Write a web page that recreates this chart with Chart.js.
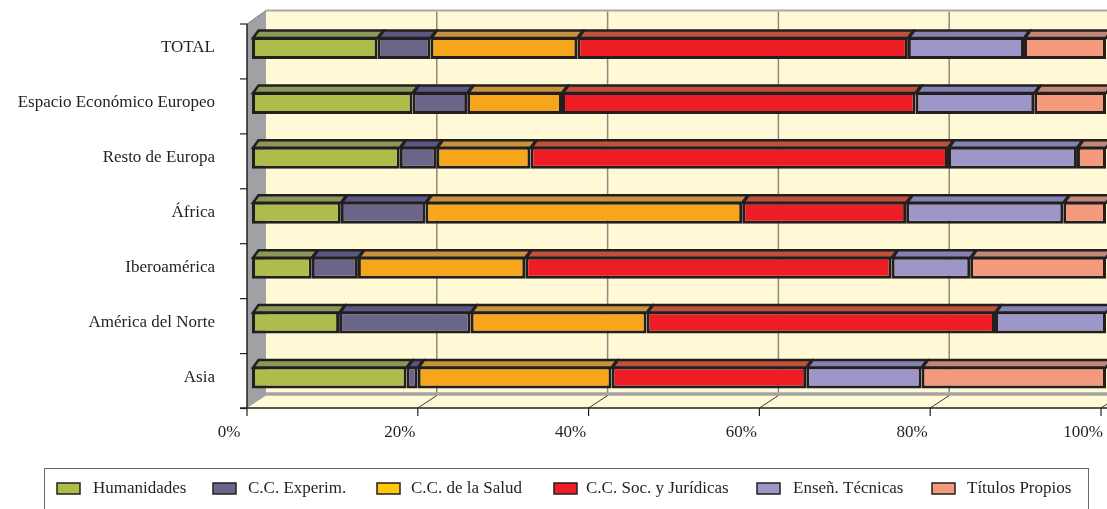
<!DOCTYPE html>
<html><head><meta charset="utf-8">
<script src="https://cdn.jsdelivr.net/npm/chart.js@4.4.1/dist/chart.umd.min.js"></script>
<style>html,body{margin:0;padding:0;background:#fff;overflow:hidden}</style>
</head><body>
<canvas id="c" width="1107" height="509"></canvas>
<script>
// ---- data ----
const categories = ["TOTAL", "Espacio Económico Europeo", "Resto de Europa", "África", "Iberoamérica", "América del Norte", "Asia"];
const seriesNames = ["Humanidades", "C.C. Experim.", "C.C. de la Salud", "C.C. Soc. y Jurídicas", "Enseñ. Técnicas", "Títulos Propios"];
const humanidades = [14.7, 18.8, 17.3, 10.4, 7.0, 10.2, 18.1];
const ccExperim   = [6.2, 6.4, 4.3, 9.9, 5.4, 15.4, 1.3];
const ccSalud     = [17.2, 11.1, 11.0, 37.1, 19.6, 20.6, 22.7];
const ccSocJur    = [38.7, 41.4, 48.9, 19.2, 42.9, 40.8, 22.8];
const ensTecnicas = [13.6, 13.9, 15.1, 18.4, 9.2, 13.0, 13.5];
const titPropios  = [9.6, 8.4, 3.4, 5.0, 15.9, 0, 21.6];
const tickLabels  = ["0%", "20%", "40%", "60%", "80%", "100%"];

// ---- styles ----
const FONT = "'Liberation Serif', 'Times New Roman', serif";
const INK = '#231F20';
const frontColors = ['#AEBC4B', '#6A6689', '#F7A61C', '#EE1C25', '#9C97C8', '#F4997B'];
const topColors   = ['#8A985A', '#5A5880', '#C8913C', '#BE503C', '#8482B0', '#C38778'];
const legendColors = ['#AEBC4B', '#6A6689', '#FFC60A', '#EE1C25', '#9C97C8', '#F4997B'];
const legendBoxX  = [57, 213, 377, 554, 757, 932];
const legendTextX = [93, 248, 411, 586, 793, 967];
const CREAM = '#FFF9D5';
const WALLGRAY = '#A0A1A5';

const seriesValues = [humanidades, ccExperim, ccSalud, ccSocJur, ensTecnicas, titPropios];

const walls = {
  id: 'walls',
  beforeDatasetsDraw(chart) {
    const ctx = chart.ctx;
    const {left, top, bottom} = chart.chartArea;
    const W = chart.width;
    const xs = chart.scales.x;
    const fL = left - 5, fB = bottom + 3, fT = top + 3.5;
    const bL = left + 14, bB = bottom - 9.5, bT = top - 10;
    ctx.save();
    // back wall
    ctx.fillStyle = CREAM;
    ctx.fillRect(bL, bT, W - bL, bB - bT);
    // floor
    ctx.beginPath();
    ctx.moveTo(fL, fB); ctx.lineTo(bL, bB); ctx.lineTo(W, bB); ctx.lineTo(W, fB); ctx.closePath();
    ctx.fill();
    // left wall
    ctx.fillStyle = WALLGRAY;
    ctx.beginPath();
    ctx.moveTo(fL, fT); ctx.lineTo(bL, bT); ctx.lineTo(bL, bB); ctx.lineTo(fL, fB); ctx.closePath();
    ctx.fill();
    // wall top edge + bottom band
    ctx.strokeStyle = '#A8A8A8';
    ctx.lineWidth = 2;
    ctx.beginPath(); ctx.moveTo(bL, bT); ctx.lineTo(W, bT); ctx.stroke();
    ctx.lineWidth = 3.5;
    ctx.strokeStyle = '#A3A3A3';
    ctx.beginPath(); ctx.moveTo(bL, bB - 1.5); ctx.lineTo(W, bB - 1.5); ctx.stroke();
    // gridlines on back wall and floor
    for (let v = 20; v <= 100; v += 20) {
      const px = xs.getPixelForValue(v);
      ctx.strokeStyle = '#8C8A7E';
      ctx.lineWidth = 1.5;
      ctx.beginPath(); ctx.moveTo(px + 14, bT + 1); ctx.lineTo(px + 14, bB - 3); ctx.stroke();
      ctx.strokeStyle = '#3A3A3A';
      ctx.lineWidth = 1;
      ctx.beginPath(); ctx.moveTo(px + 14, bB); ctx.lineTo(px - 5, fB); ctx.stroke();
    }
    // left wall top slanted edge
    ctx.strokeStyle = '#808080';
    ctx.lineWidth = 1;
    ctx.beginPath(); ctx.moveTo(fL, fT); ctx.lineTo(bL, bT); ctx.stroke();
    // front axes
    ctx.strokeStyle = INK;
    ctx.lineWidth = 1.5;
    ctx.beginPath(); ctx.moveTo(fL, fT); ctx.lineTo(fL, fB); ctx.stroke();
    ctx.beginPath(); ctx.moveTo(fL - 7, fB); ctx.lineTo(W, fB); ctx.stroke();
    ctx.lineWidth = 1.2;
    const n = categories.length;
    for (let k = 0; k <= n; k++) {
      const y = top + 3.5 + k * (bottom - top) / n;
      ctx.beginPath(); ctx.moveTo(fL - 7, y); ctx.lineTo(fL, y); ctx.stroke();
    }
    for (let v = 0; v <= 100; v += 20) {
      const px = xs.getPixelForValue(v) - 5;
      ctx.beginPath(); ctx.moveTo(px, fB); ctx.lineTo(px, fB + 8); ctx.stroke();
    }
    ctx.restore();
  }
};

const barTops = {
  id: 'barTops',
  afterDatasetsDraw(chart) {
    const ctx = chart.ctx;
    ctx.save();
    ctx.lineJoin = 'miter';
    chart.data.datasets.forEach((ds, i) => {
      const meta = chart.getDatasetMeta(i);
      meta.data.forEach(el => {
        const p = el.getProps(['x', 'base', 'y', 'height'], true);
        const x0 = Math.min(p.x, p.base), x1 = Math.max(p.x, p.base);
        if (x1 - x0 < 0.5) return;
        const t = p.y - p.height / 2 + 1;
        ctx.beginPath();
        ctx.moveTo(x0 + 1, t); ctx.lineTo(x0 + 6.5, t - 7.5); ctx.lineTo(x1 + 5.5, t - 7.5); ctx.lineTo(x1, t); ctx.closePath();
        ctx.fillStyle = topColors[i];
        ctx.fill();
        ctx.strokeStyle = INK;
        ctx.lineWidth = 2.5;
        ctx.stroke();
      });
    });
    ctx.restore();
  }
};

const boxLegend = {
  id: 'boxLegend',
  afterDraw(chart) {
    const ctx = chart.ctx;
    ctx.save();
    ctx.strokeStyle = '#6A6A6A';
    ctx.lineWidth = 1;
    ctx.strokeRect(44.5, 468.5, 1044, 60);
    ctx.font = '17px ' + FONT;
    ctx.textBaseline = 'middle';
    ctx.textAlign = 'left';
    chart.data.datasets.forEach((ds, i) => {
      ctx.fillStyle = legendColors[i];
      ctx.fillRect(legendBoxX[i], 483, 23, 11);
      ctx.strokeStyle = INK;
      ctx.lineWidth = 1.5;
      ctx.strokeRect(legendBoxX[i], 483, 23, 11);
      ctx.fillStyle = INK;
      ctx.fillText(ds.label, legendTextX[i], 489);
    });
    ctx.restore();
  }
};

new Chart(document.getElementById('c'), {
  type: 'bar',
  data: {
    labels: categories,
    datasets: seriesNames.map((name, i) => ({
      label: name,
      data: seriesValues[i],
      backgroundColor: frontColors[i],
      borderColor: INK,
      borderWidth: 3,
      borderSkipped: false,
      barPercentage: 0.8,
      categoryPercentage: 0.5
    }))
  },
  options: {
    indexAxis: 'y',
    responsive: false,
    animation: false,
    devicePixelRatio: 1,
    events: [],
    layout: { padding: { top: 20.5, right: 1, left: 0, bottom: 0 } },
    plugins: { legend: { display: false }, tooltip: { enabled: false } },
    scales: {
      x: {
        stacked: true, min: 0, max: 100,
        grid: { display: false, drawTicks: false },
        border: { display: false },
        afterFit(s) { s.height = 104; s.paddingLeft = 0; s.paddingRight = 0; },
        ticks: {
          stepSize: 20, padding: 17, labelOffset: -23,
          color: INK, font: { family: FONT, size: 17 },
          maxRotation: 0, autoSkip: false,
          callback: (v) => tickLabels[Math.round(v / 20)]
        }
      },
      y: {
        stacked: true,
        grid: { display: false, drawTicks: false },
        border: { display: false },
        afterFit(s) { s.width = 252; s.paddingTop = 0; s.paddingBottom = 0; },
        ticks: { padding: 37, color: INK, font: { family: FONT, size: 17 }, autoSkip: false }
      }
    }
  },
  plugins: [walls, barTops, boxLegend]
});
</script>
</body></html>
